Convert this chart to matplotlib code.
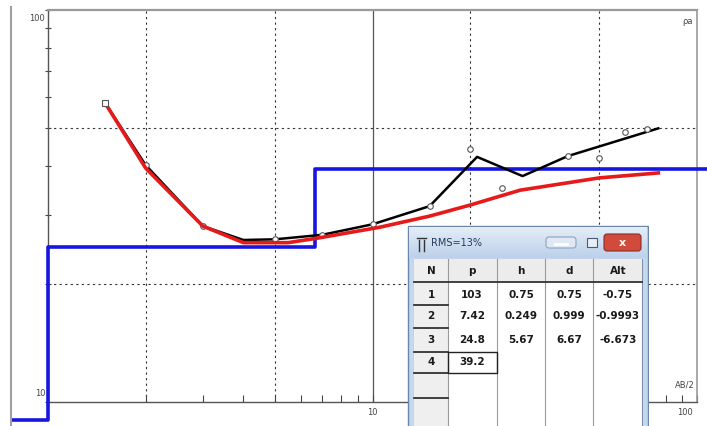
import numpy as np
import matplotlib
matplotlib.use("Agg")
import matplotlib.pyplot as plt
from matplotlib.patches import Rectangle, FancyBboxPatch
from matplotlib.lines import Line2D
from matplotlib.colors import LinearSegmentedColormap
from matplotlib.ticker import FixedLocator, NullFormatter
from matplotlib.transforms import Bbox, TransformedBbox

# field curve (AB/2, apparent resistivity)
ab2_line = [1.5, 2, 3, 4, 5, 7, 10, 15, 21, 29, 40, 76]
rho_line = [57.9, 40.2, 28.1, 25.9, 26.0, 26.7, 28.4, 31.6, 42.2, 37.7, 42.4, 49.9]

# measured points
ab2_obs = [2, 3, 5, 7, 10, 15, 20, 25, 40, 50, 60, 70]
rho_obs = [40.2, 28.1, 26.0, 26.7, 28.4, 31.6, 44.2, 35.2, 42.4, 42.0, 48.9, 49.7]

# model response
ab2_fit = [1.5, 2, 3, 4, 5.5, 6.8, 10.5, 15, 20, 28.5, 50, 76]
rho_fit = [57.9, 39.5, 28.1, 25.5, 25.5, 26.2, 27.9, 29.8, 31.8, 34.7, 37.3, 38.4]

# layer table
layer_n = [1, 2, 3, 4]
layer_rho = [103, 7.42, 24.8, 39.2]
layer_h = [0.75, 0.249, 5.67]
layer_d = [0.75, 0.999, 6.67]
layer_alt = [-0.75, -0.9993, -6.673]
rms = 13

W, H = 707, 426
fig = plt.figure(figsize=(W / 100, H / 100), dpi=100)
fig.patch.set_facecolor('white')

ax = fig.add_axes([48 / W, 1 - 402 / H, 649 / W, 392 / H])
ax.set_xscale('log')
ax.set_yscale('log')
ax.set_xlim(1, 100)
ax.set_ylim(10, 100)

# grid
for x in [2, 5, 20, 50]:
    ax.axvline(x, color='#333333', lw=0.8, ls=(0, (2, 3)), zorder=1)
for y in [20, 50]:
    ax.axhline(y, color='#333333', lw=0.8, ls=(0, (2, 3)), zorder=1)
ax.axvline(10, color='#555555', lw=0.9, zorder=1)

# ticks
minor = [2, 3, 4, 5, 6, 7, 8, 9, 20, 30, 40, 50, 60, 70, 80, 90]
ax.xaxis.set_major_locator(FixedLocator([10, 100]))
ax.xaxis.set_minor_locator(FixedLocator(minor))
ax.yaxis.set_major_locator(FixedLocator([10, 100]))
ax.yaxis.set_minor_locator(FixedLocator([20, 30, 40, 50, 60, 70, 80, 90]))
ax.xaxis.set_major_formatter(NullFormatter())
ax.xaxis.set_minor_formatter(NullFormatter())
ax.yaxis.set_major_formatter(NullFormatter())
ax.yaxis.set_minor_formatter(NullFormatter())
ax.tick_params(axis='x', which='both', direction='in', length=5, width=0.8, color='#444444')
ax.tick_params(axis='y', which='both', direction='inout', length=5, width=0.8, color='#444444')

for side in ['left', 'bottom']:
    ax.spines[side].set_color('#555555')
    ax.spines[side].set_linewidth(1.0)
ax.spines['top'].set_color('#9a9a9a')
ax.spines['top'].set_linewidth(1.6)
ax.spines['right'].set_color('#9a9a9a')
ax.spines['right'].set_linewidth(1.2)

lab = dict(fontsize=6, color='#444444')
ax.annotate('100', xy=(1, 100), xytext=(-2, -3), textcoords='offset points', ha='right', va='top', **lab)
ax.annotate('10', xy=(1, 10), xytext=(-2, 3), textcoords='offset points', ha='right', va='bottom', **lab)
ax.annotate('10', xy=(10, 10), xytext=(0, -4), textcoords='offset points', ha='center', va='top', **lab)
ax.annotate('100', xy=(100, 10), xytext=(-3, -4), textcoords='offset points', ha='right', va='top', **lab)
ax.annotate('AB/2', xy=(100, 10), xytext=(-2, 9), textcoords='offset points', ha='right', va='bottom', **lab)
ax.annotate('ρa', xy=(100, 100), xytext=(-3, -5), textcoords='offset points', ha='right', va='top', **lab)

# layered model (blue); the old program pins values below the window to its edge
low = 10 ** (1 - 18 / 392)
edges = [0.3] + layer_d + [300]
vals = [max(v, low) for v in layer_rho + [layer_rho[-1]]]
blue, = ax.step(edges, vals, where='post', color='#1616e0', lw=2.6, zorder=3)
blue.set_clip_path(None)
blue.set_clip_box(TransformedBbox(Bbox.from_extents(12 / W, 1 - 422 / H, 1, 1), fig.transFigure))

# field curve, measured points, fitted curve
ax.plot(ab2_line, rho_line, color='black', lw=1.8, zorder=4)
ax.plot(ab2_obs, rho_obs, ls='none', marker='o', ms=4, mfc='white', mec='#555555', mew=0.8, zorder=5)
ax.plot(ab2_fit, rho_fit, color='#e61a1a', lw=2.6, zorder=6)
ax.plot(ab2_line[:1], rho_line[:1], ls='none', marker='s', ms=4.5, mfc='white', mec='#555555', mew=0.8, zorder=7)

# outer frame line
fig.add_artist(Line2D([11 / W, 11 / W], [0, 1 - 7 / H], color='#a0a0a0', lw=1.5))

# table window
dax = fig.add_axes([407 / W, 0, 242 / W, 201 / H])
dax.set_zorder(5)
dax.axis('off')

dax.add_patch(Rectangle((408, 226), 240, 210, fc='#c6d8ee', ec='#6a86ab', lw=1))
grad = LinearSegmentedColormap.from_list('t', ['#e4edf8', '#bcd1ea'])
dax.imshow(np.linspace(0, 1, 50)[:, None], extent=[409, 647, 258, 227], cmap=grad, aspect='auto', zorder=1)

# icon
dax.plot([417, 426], [238, 238], color='#333333', lw=1, zorder=3)
dax.plot([419, 419], [240, 251], color='#333333', lw=1, zorder=3)
dax.plot([424, 424], [240, 251], color='#333333', lw=1, zorder=3)
dax.text(431, 243, 'RMS=%d%%' % rms, fontsize=7, color='#26395a', va='center', zorder=3)

# buttons
dax.add_patch(FancyBboxPatch((546, 237), 30, 11, boxstyle='round,pad=0,rounding_size=3',
                             fc='#dfe8f4', ec='#8ea4c0', lw=0.8, zorder=3))
dax.plot([555, 567], [244, 244], color='#ffffff', lw=2, zorder=4)
dax.add_patch(Rectangle((587, 238), 10, 9, fc='#e8eef6', ec='#4a5a70', lw=0.8, zorder=3))
dax.add_patch(FancyBboxPatch((604, 234), 37, 17, boxstyle='round,pad=0,rounding_size=3',
                             fc='#d24a3c', ec='#8c2c22', lw=0.8, zorder=3))
dax.text(622.5, 243, 'x', fontsize=8, color='white', fontweight='bold', ha='center', va='center', zorder=4)

# client area
dax.add_patch(Rectangle((414, 259), 228, 175, fc='white', ec='#7f92a8', lw=0.8, zorder=2))
dax.add_patch(Rectangle((414, 259), 228, 23, fc='#ececec', ec='none', zorder=2))
dax.add_patch(Rectangle((414, 259), 34, 175, fc='#efefef', ec='none', zorder=2))
for x in [448, 497, 545, 593]:
    dax.plot([x, x], [259, 426], color='#9a9a9a', lw=0.8, zorder=3)
dax.plot([414, 642], [282, 282], color='#333333', lw=1.3, zorder=3)
for y in [305, 328, 352, 373, 398]:
    dax.plot([414, 448], [y, y], color='#222222', lw=1.2, zorder=3)
dax.add_patch(Rectangle((448, 352), 49, 21, fill=False, ec='#222222', lw=1, zorder=4))

cols_x = [431, 472, 521, 569, 618]
tk = dict(fontsize=7.5, color='#1a1a1a', fontweight='bold', ha='center', va='center', zorder=4)
for x, name in zip(cols_x, ['N', 'p', 'h', 'd', 'Alt']):
    dax.text(x, 271, name, **tk)
rows_y = [295, 316, 340, 362]
for i, n in enumerate(layer_n):
    dax.text(cols_x[0], rows_y[i], str(n), **tk)
    dax.text(cols_x[1], rows_y[i], '%g' % layer_rho[i], **tk)
    if i < len(layer_h):
        dax.text(cols_x[2], rows_y[i], '%g' % layer_h[i], **tk)
        dax.text(cols_x[3], rows_y[i], '%g' % layer_d[i], **tk)
        dax.text(cols_x[4], rows_y[i], '%g' % layer_alt[i], **tk)

dax.set_xlim(407, 649)
dax.set_ylim(426, 225)

fig.savefig('out.png', dpi=100)
